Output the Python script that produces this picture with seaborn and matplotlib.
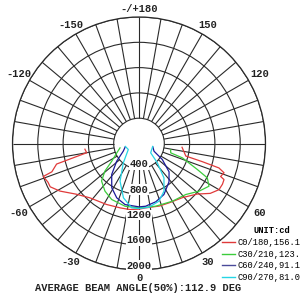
import numpy as np
import pandas as pd
import matplotlib
matplotlib.use("Agg")
import matplotlib.pyplot as plt
from matplotlib.lines import Line2D
import seaborn as sns

# ---- data (angles in degrees, intensity in cd) ----
red_ang = [-84, -80, -76, -72, -71, -67, -64, -59, -51, -42, -28, -16, -8, 0, 6,
           18, 27, 39, 49, 55, 60, 64, 67, 68, 71, 73, 74, 75, 85]
red_val = [860, 840, 1343, 1449, 1600, 1564, 1562, 1460, 1274, 1157, 1092, 1060, 1054, 1038, 1023,
           1040, 1052, 1099, 1218, 1375, 1460, 1468, 1460, 1392, 1422, 1322, 1039, 766, 683]

green_ang = [-77, -67, -57, -51, -45, -35.5, -26, -12.6, 0, 15, 30, 42.5, 51.5, 58.6, 63.3, 66, 71.7, 73.6, 79]
green_val = [308, 382, 514, 694, 838, 926, 985, 1016, 1018, 1026, 1054, 1094, 1212, 1296, 1209, 1009, 722, 522, 510]

blue_ang = [-76, -64, -51.6, -41.4, -31.6, -22.3, -12.9, 0, 6, 16, 26, 38, 46.7, 55.5, 62.8, 76]
blue_val = [225, 277, 450, 653, 822, 928, 990, 1002, 997, 959, 898, 770, 653, 447, 267, 225]

cyan_ang = [-78, -60.7, -39, -26.7, -16, -6.5, 0, 9, 19, 27.7, 36, 43.5, 51.5, 78]
cyan_val = [221, 194, 394, 667, 893, 1023, 1028, 1019, 965, 851, 671, 420, 236, 221]

series_names = ["C0/180,156.1DEG", "C30/210,123.4DEG", "C60/240,91.1DEG", "C90/270,81.0DEG"]
series_colors = ["#e03a3a", "#3ccc3c", "#1a1a9a", "#25d5e5"]
legend_colors = ["#e03a3a", "#3ccc3c", "#4a4a9a", "#25d5e5"]

r_ticks = [400, 800, 1200, 1600, 2000]
r_labels = ["400", "800", "1200", "1600", "2000"]
ang_ticks = [180, 150, 120, 60, 30, 0, -30, -60, -120, -150]
ang_labels = ["-/+180", "150", "120", "60", "30", "0", "-30", "-60", "-120", "-150"]

title_text = "AVERAGE BEAM ANGLE(50%):112.9 DEG"
unit_text = "UNIT:cd"

# ---- build table ----
frames = []
for name, a, v in zip(series_names, [red_ang, green_ang, blue_ang, cyan_ang],
                      [red_val, green_val, blue_val, cyan_val]):
    frames.append(pd.DataFrame({"theta": np.deg2rad(a), "r": v, "series": name}))
df = pd.concat(frames, ignore_index=True)

mono = ["Liberation Mono", "DejaVu Sans Mono"]

fig = plt.figure(figsize=(3, 3), dpi=100)
fig.patch.set_facecolor("white")
ax = fig.add_axes([0.0417, 0.1, 0.8433, 0.8433], projection="polar")
ax.set_theta_zero_location("S")
ax.set_theta_direction(1)
ax.set_rlim(0, 2000)

# grid
ax.set_yticks(r_ticks)
ax.set_yticklabels([])
ax.set_xticks([])
ax.yaxis.grid(True, color="#2a2a2a", lw=0.8)
ax.xaxis.grid(False)
ax.vlines(np.deg2rad(np.arange(0, 360, 10)), 400, 2000, color="#2a2a2a", lw=0.8, zorder=1)
ax.spines["polar"].set_color("#2a2a2a")
ax.spines["polar"].set_linewidth(0.9)

sns.lineplot(data=df, x="theta", y="r", hue="series", hue_order=series_names,
             palette=dict(zip(series_names, series_colors)), sort=False,
             estimator=None, legend=False, lw=0.9, ax=ax, zorder=3)
ax.set_xlabel("")
ax.set_ylabel("")

# radial labels along 0 deg
for v, lab in zip(r_ticks, r_labels):
    ax.text(0, v - 70, lab, ha="center", va="center", fontsize=7.5, family=mono,
            fontweight="bold", color="#222",
            bbox=dict(facecolor="white", edgecolor="none", pad=0.3), zorder=4)

# angle labels
for a, lab in zip(ang_ticks, ang_labels):
    t = np.deg2rad(a)
    dx = np.sin(t)
    dy = -np.cos(t)
    pad = 8 + 5 * abs(dx)
    ax.annotate(lab, xy=(t, 2000), xytext=(dx * pad * 0.72, dy * pad * 0.72),
                textcoords="offset points", ha="center", va="center",
                fontsize=7.5, family=mono, fontweight="bold", color="#222",
                annotation_clip=False)

# legend
handles = [Line2D([], [], color=c, lw=1.0) for c in legend_colors]
leg = fig.legend(handles, series_names, loc="upper left",
                 bbox_to_anchor=(222 / 300, 1 - 226 / 300), frameon=False,
                 prop=dict(family=mono, size=6.3), title=unit_text,
                 title_fontproperties=dict(family=mono, size=6.3, weight="bold"),
                 handlelength=1.5, handletextpad=0.25, labelspacing=0.32,
                 borderpad=0, borderaxespad=0)

fig.text(138.5 / 300, 1 - 288 / 300, title_text, ha="center", va="center",
         fontsize=7.5, family=mono, fontweight="bold", color="#222")

fig.savefig("out.png", dpi=100, facecolor="white")
